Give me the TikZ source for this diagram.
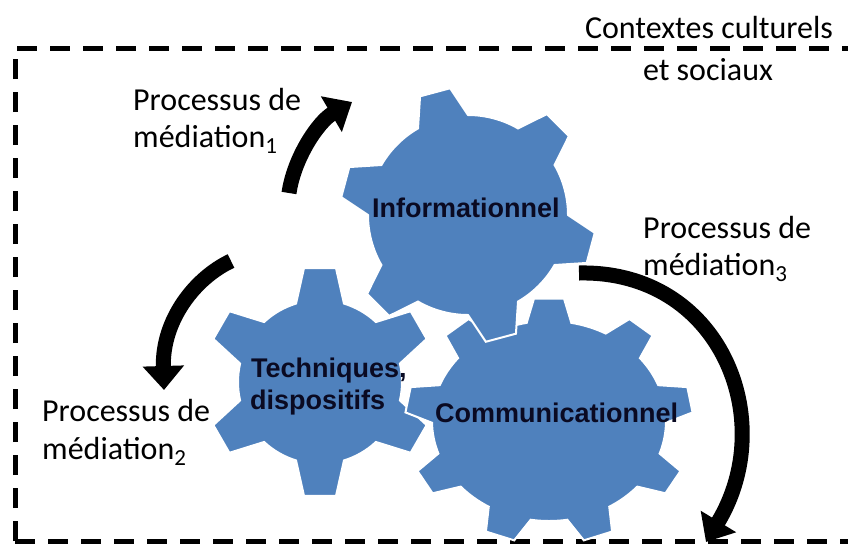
\documentclass[tikz,border=0pt]{standalone}
\usepackage{fontspec}
\setmainfont{Carlito}
\newfontfamily\gearfont{Liberation Sans}
\usetikzlibrary{arrows.meta}
\definecolor{gearblue}{HTML}{4F81BD}
\definecolor{geartext}{HTML}{0A0A22}
\newcommand\subdigit[1]{\raisebox{-6pt}{\fontsize{23}{23}\selectfont #1}}
\tikzset{
  gearbody/.style={fill=gearblue, draw=white, line width=2pt, line join=miter},
  lab/.style={font=\fontsize{32}{38}\selectfont, inner sep=0pt, text=black},
  glab/.style={font=\gearfont\bfseries\fontsize{27}{31}\selectfont, inner sep=0pt, text=geartext},
  arr/.style={line width=15pt, -{Triangle[length=24pt,width=40pt]}},
  frame/.style={line width=5pt, dash pattern=on 20pt off 13pt}
}
% #1 centre, #2 xscale, #3 teeth, #4 teeth-1, #5 offset, #6 R, #7 Ro, #8 base half angle, #9 tip half angle
\newcommand\drawgear[9]{%
  \begin{scope}[shift={(#1)}, xscale=#2]
    \path[gearbody] ({#5-#8}:#6pt)
      \foreach \k [evaluate=\k as \ga using {#5+\k*360/#3}] in {0,...,#4}{
        -- ({\ga-#8}:#6pt) -- ({\ga-#9}:#7pt) -- ({\ga+#9}:#7pt) -- ({\ga+#8}:#6pt)
        arc[start angle={\ga+#8}, end angle={\ga+360/#3-#8}, radius=#6pt]
      } -- cycle;
  \end{scope}}
\begin{document}
\begin{tikzpicture}[x=1pt,y=-1pt]
\useasboundingbox (0,0) rectangle (848,544);
% frame
\coordinate (f1) at (15,541);
\coordinate (f2) at (15,48);
\coordinate (f3) at (870,48);
\coordinate (f4) at (870,541);
\draw[frame] (f1) -- (f2) -- (f3);
\draw[frame] (f1) -- (f4);
% gears
\drawgear{320,382}{1}{6}{5}{90}{82}{115}{17}{8}
\drawgear{549,421}{1.17}{9}{8}{90}{100}{123}{11}{6}
\drawgear{468,215}{1}{6}{5}{105}{100}{128}{15}{7}
% gear labels
\node[glab, anchor=base west] (inf) at (372,217) {Informationnel};
\node[glab, anchor=base west] (tec1) at (251,377) {Techniques,};
\node[glab, anchor=base west] (tec2) at (250,409) {dispositifs};
\node[glab, anchor=base west] (com) at (435,422) {Communicationnel};
% labels
\node[lab, anchor=base] (ctx1) at (709,38) {Contextes culturels};
\node[lab, anchor=base] (ctx2) at (708,80) {et sociaux};
\node[lab, anchor=base west] (p1a) at (133,110) {Processus de};
\node[lab, anchor=base west] (p1b) at (133,147) {médiation\subdigit{1}};
\node[lab, anchor=base west] (p2a) at (42,421) {Processus de};
\node[lab, anchor=base west] (p2b) at (42,459) {médiation\subdigit{2}};
\node[lab, anchor=base west] (p3a) at (643,238) {Processus de};
\node[lab, anchor=base west] (p3b) at (643,275) {médiation\subdigit{3}};
% arrows
\coordinate (a1s) at (289,193);
\coordinate (a1e) at (352,102);
\coordinate (a2s) at (231,261);
\coordinate (a2e) at (164,390);
\coordinate (a3s) at (579,273);
\coordinate (a3e) at (706,542);
\draw[arr] (a1s) .. controls (294,158) and (318,122) .. (a1e);
\draw[arr] (a2s) .. controls (195,278) and (162,320) .. (a2e);
\draw[arr] (a3s) .. controls (720,270) and (780,420) .. (a3e);
\end{tikzpicture}
\end{document}
